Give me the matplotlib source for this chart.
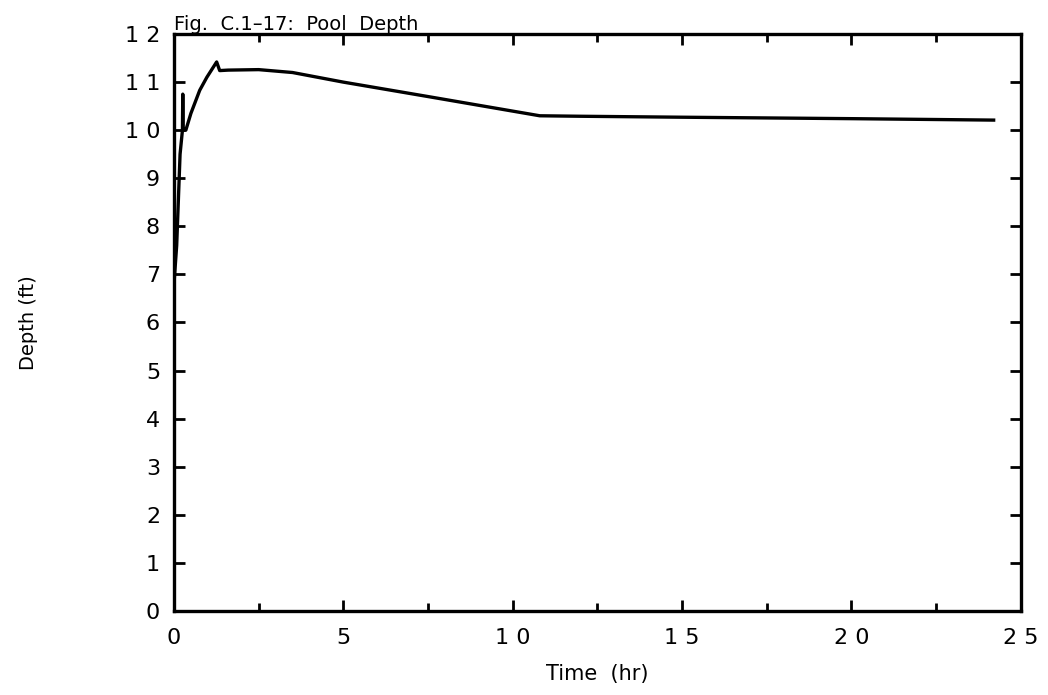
import matplotlib.pyplot as plt
from matplotlib.ticker import MultipleLocator

# pool depth time history
time_hr = [0.0, 0.04, 0.08, 0.18, 0.25, 0.26, 0.27, 0.35, 0.5, 0.76, 0.97, 1.26,
           1.35, 1.6, 2.5, 3.5, 5.0, 7.5, 10.8, 12.0, 15.0, 20.0, 24.2]
depth_ft = [6.8, 7.2, 7.6, 9.5, 10.0, 10.75, 10.0, 10.0, 10.35, 10.83, 11.1, 11.42,
            11.24, 11.25, 11.26, 11.2, 11.0, 10.7, 10.3, 10.29, 10.27, 10.24, 10.21]

x_ticks = [0, 5, 10, 15, 20, 25]
x_labels = ["0", "5", "1 0", "1 5", "2 0", "2 5"]
y_ticks = list(range(13))
y_labels = ["0", "1", "2", "3", "4", "5", "6", "7", "8", "9", "1 0", "1 1", "1 2"]

fig = plt.figure(figsize=(10.48, 6.95), dpi=100)
ax = fig.add_axes([0.166, 0.121, 0.808, 0.830])

ax.plot(time_hr, depth_ft, color="black", linewidth=2.4)

ax.set_xlim(0, 25)
ax.set_ylim(0, 12)
ax.set_xticks(x_ticks)
ax.set_xticklabels(x_labels)
ax.xaxis.set_minor_locator(MultipleLocator(2.5))
ax.set_yticks(y_ticks)
ax.set_yticklabels(y_labels)

for s in ax.spines.values():
    s.set_linewidth(2.4)

ax.tick_params(which="both", direction="in", top=True, right=True, width=2)
ax.tick_params(which="major", length=8)
ax.tick_params(which="minor", length=6)
ax.tick_params(axis="x", pad=12, labelsize=16)
ax.tick_params(axis="y", pad=10, labelsize=16)

ax.set_xlabel("Time  (hr)", fontsize=15, labelpad=12)
ax.set_ylabel("Depth (ft)", fontsize=14, labelpad=62)
ax.set_title("Fig.  C.1\u201317:  Pool  Depth", fontsize=14, loc="left", pad=3)

fig.savefig("out.png", dpi=100)
